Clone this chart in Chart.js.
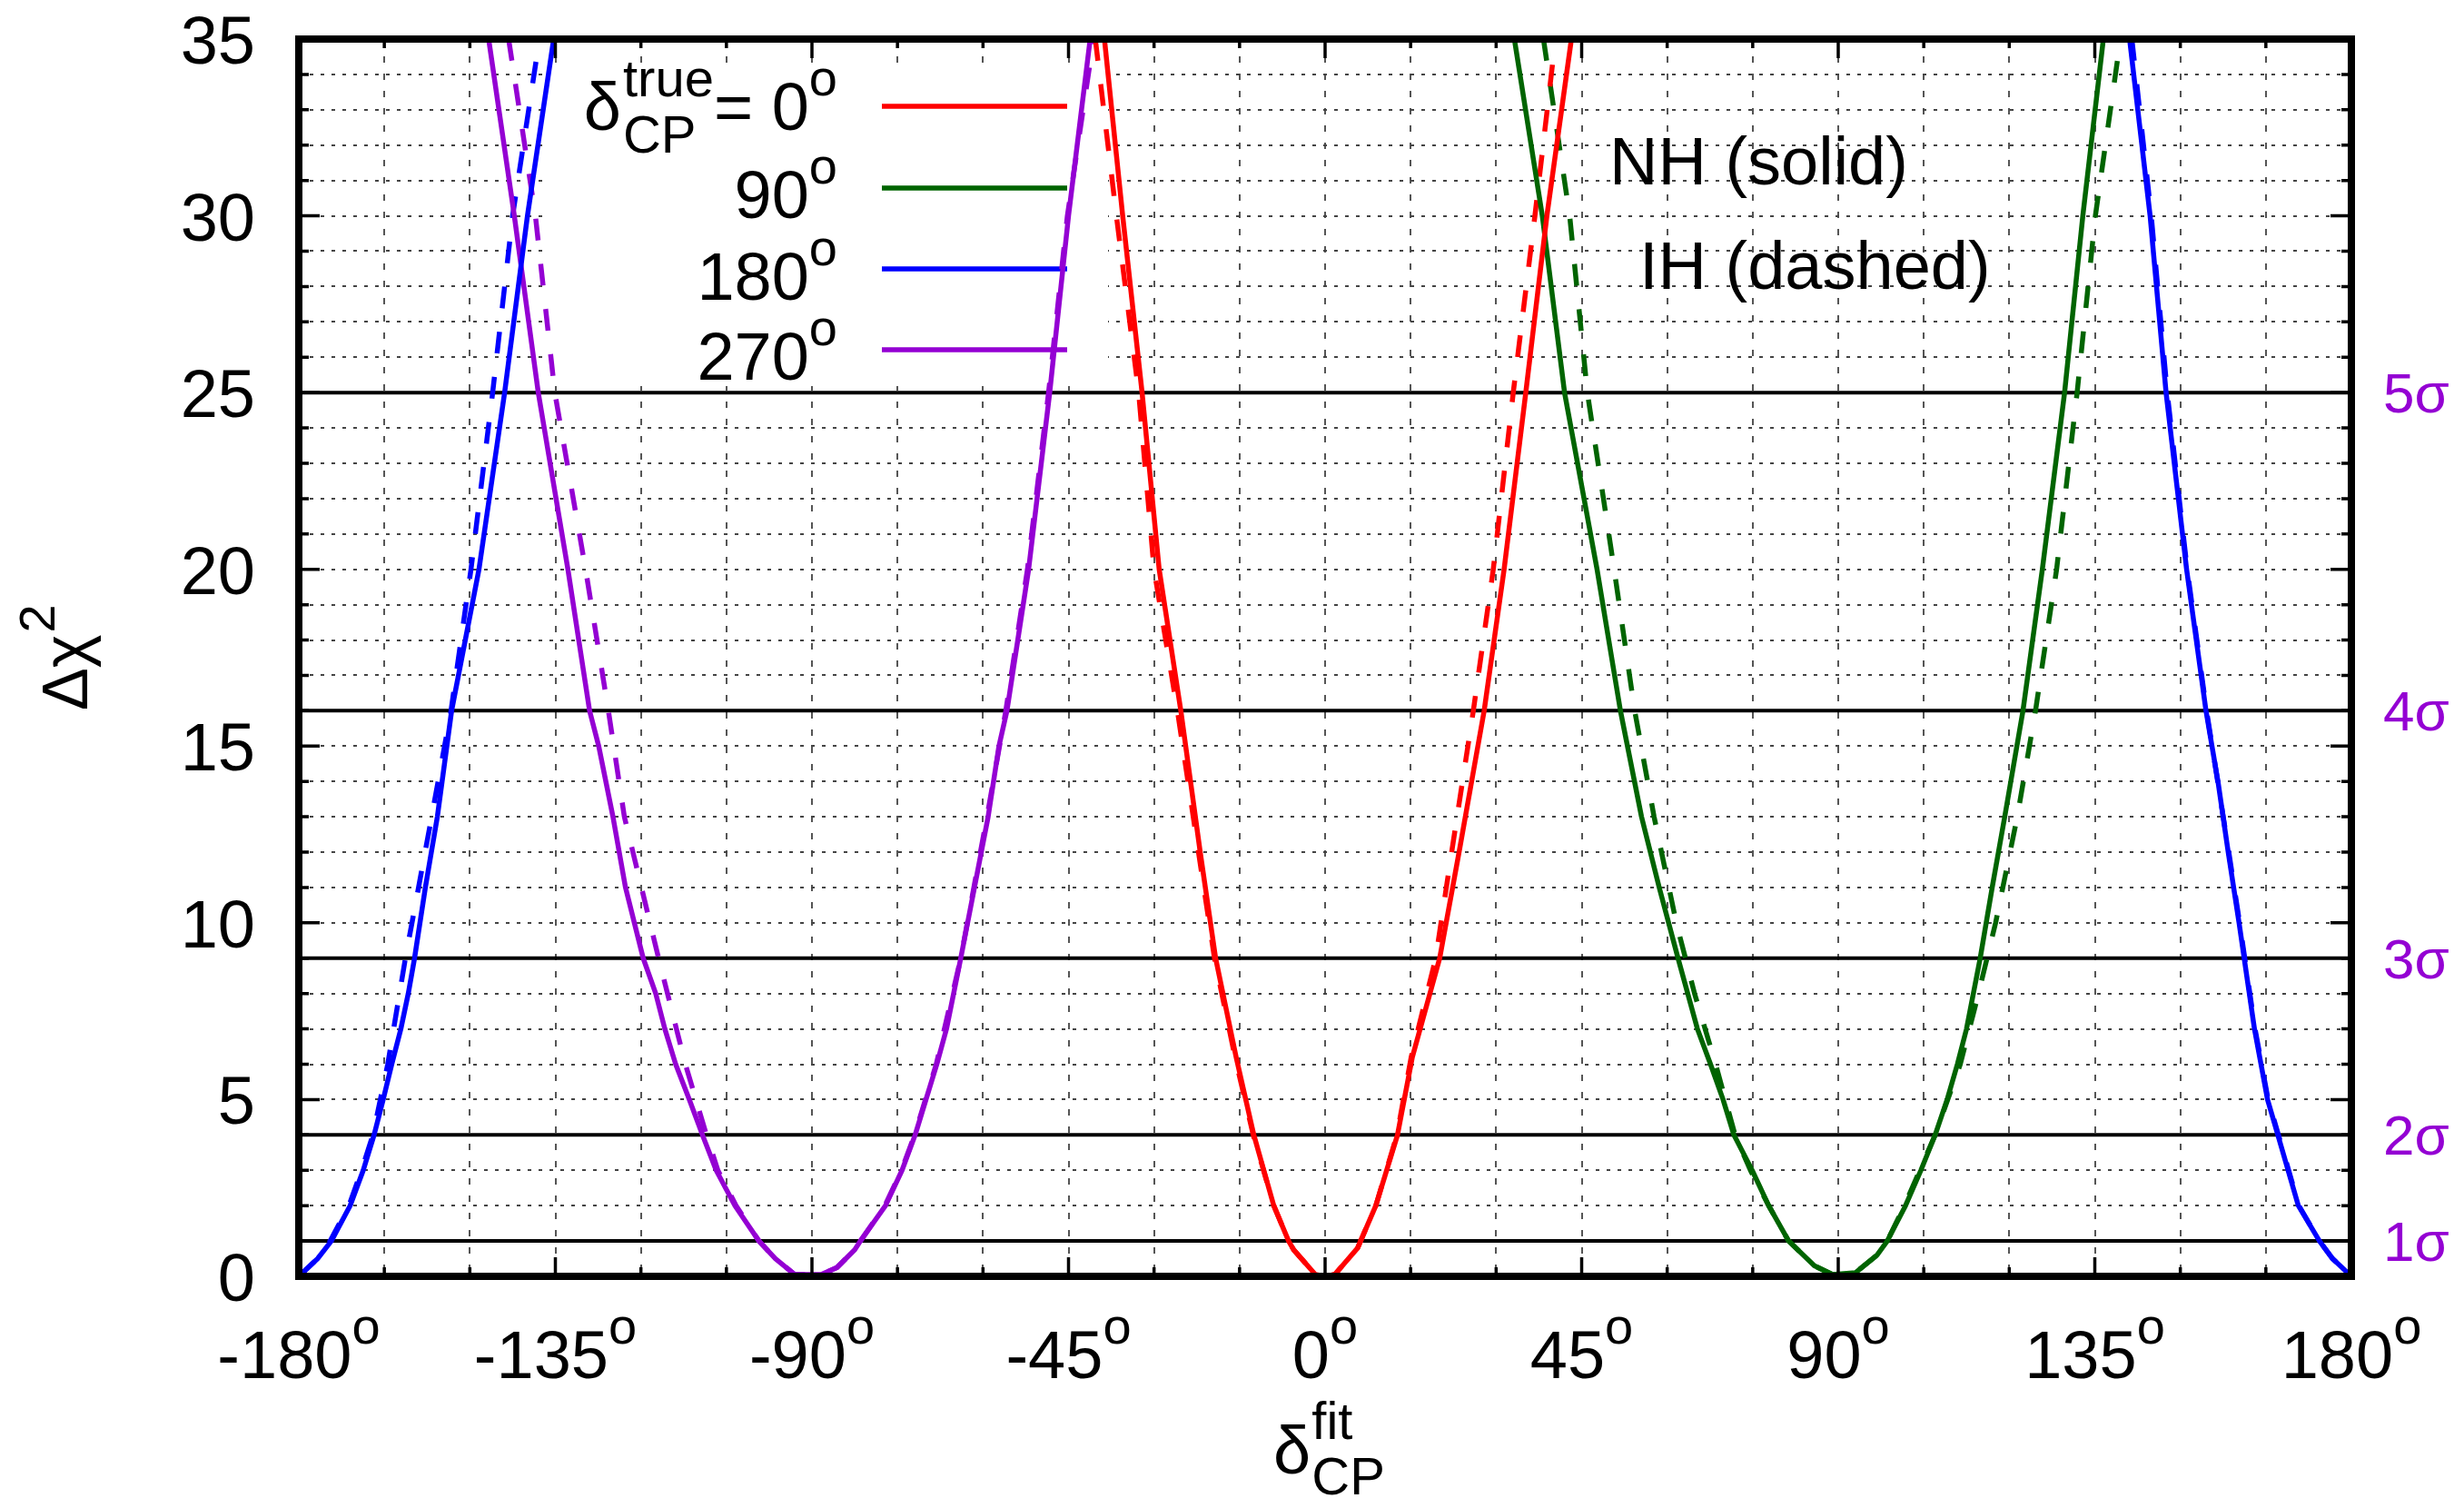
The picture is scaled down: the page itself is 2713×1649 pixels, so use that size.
<!DOCTYPE html>
<html>
<head>
<meta charset="utf-8">
<script src="https://cdn.jsdelivr.net/npm/chart.js@4.4.1/dist/chart.umd.min.js"></script>
<style>
html, body { margin: 0; padding: 0; background: #fff; }
canvas { display: block; }
</style>
</head>
<body>
<canvas id="chart" width="2713" height="1649"></canvas>
<script>
// [delta_CP fit (deg), delta chi^2]; null = gap
var nhTrue0 = [[-38.7, 35], [-35.5, 30], [-32.1, 25], [-29.1, 20], [-25.3, 16], [-21.9, 12], [-19.2, 9], [-15.6, 6.2], [-12.5, 4], [-9.0, 2], [-6.4, 1], [-5.5, 0.75], [-1.7, 0.05], [0, 0], [1.7, 0.05], [5.7, 0.8], [8.9, 2], [12.7, 4], [15.3, 6.2], [20.1, 9], [23.5, 12], [27.9, 16], [31.4, 20], [35.2, 25], [38.9, 30], [43.2, 35]];
var ihTrue0 = [[-40.3, 35], [-36.6, 30], [-32.7, 25], [-30.0, 20], [-25.9, 16], [-22.2, 12], [-19.4, 9], [-15.8, 6.2], [-12.6, 4], [-9.0, 2], [-6.4, 1], [-5.5, 0.75], [-1.7, 0.05], [0, 0], [1.7, 0.05], [5.7, 0.8], [8.9, 2], [12.6, 4], [15.1, 6.2], [19.4, 9], [22.2, 12], [26.0, 16], [29.5, 20], [33.0, 25], [36.8, 30], [40.4, 35]];
var nhTrue90 = [[33.2, 35], [38.1, 30], [42.0, 25], [47.7, 20], [51.8, 16], [55.5, 13], [58.6, 11], [61.9, 9], [65.3, 7], [67.6, 6], [69.8, 5], [71.7, 4], [74.9, 3], [77.8, 2], [81.3, 1], [85.8, 0.3], [89.0, 0.05], [93.0, 0.1], [96.8, 0.6], [98.6, 1], [101.8, 2], [104.5, 3], [107.0, 4], [109.1, 5], [110.9, 6], [112.5, 7], [114.9, 9], [117.0, 11], [119.2, 13], [122.4, 16], [125.8, 20], [129.7, 25], [132.9, 30], [136.5, 35]];
var ihTrue90 = [[38.3, 35], [42.9, 30], [46.0, 25], [50.7, 20], [54.3, 16], [57.7, 13], [61.6, 10], [64.8, 8], [68.5, 6], [71.9, 4], [74.6, 3], [77.8, 2], [81.3, 1], [85.8, 0.3], [89.0, 0.05], [93.0, 0.1], [96.8, 0.6], [98.6, 1], [101.6, 2], [104.3, 3], [107.0, 4], [111.4, 6], [114.6, 8], [117.6, 10], [121.4, 13], [124.6, 16], [128.3, 20], [131.9, 25], [135.1, 30], [139.5, 35]];
var nhTrue180 = [[-180, 0], [-176.7, 0.5], [-174.3, 1], [-171.0, 2], [-168.7, 3], [-166.8, 4], [-165.2, 5], [-163.7, 6], [-162.1, 7], [-160.8, 8], [-159.7, 9], [-157.8, 11], [-155.7, 13], [-153.2, 16], [-148.4, 20], [-143.9, 25], [-139.9, 30], [-135.3, 35],
  null,
  [141.1, 35], [144.7, 30], [147.5, 25], [151.1, 20], [154.5, 16], [156.6, 14], [158.4, 12], [160.3, 10], [161.2, 9], [163.0, 7], [165.3, 5], [167.1, 4], [168.9, 3], [170.7, 2], [174.4, 1], [176.7, 0.5], [180, 0]];
var ihTrue180 = [[-180, 0], [-176.7, 0.5], [-174.5, 1], [-171.2, 2], [-169.0, 3], [-167.0, 4], [-164.4, 6], [-161.3, 9], [-156.7, 13], [-153.3, 16], [-149.8, 20], [-146.0, 25], [-142.5, 30], [-137.8, 35],
  null,
  [141.5, 35], [144.9, 30], [147.7, 25], [151.2, 20], [154.6, 16], [158.5, 12], [160.4, 10], [163.1, 7], [165.4, 5], [167.2, 4], [169.0, 3], [170.8, 2], [174.4, 1], [176.7, 0.5], [180, 0]];
var nhTrue270 = [[-146.7, 35], [-142.2, 30], [-138.0, 25], [-132.8, 20], [-129.0, 16], [-127.4, 15], [-124.9, 13], [-122.7, 11], [-119.6, 9], [-117.4, 8], [-115.8, 7], [-113.9, 6], [-111.5, 5], [-109.2, 4], [-106.8, 3], [-103.5, 2], [-99.3, 1], [-96.4, 0.5], [-93.0, 0.05], [-88.4, 0.05], [-85.6, 0.25], [-82.5, 0.75], [-81.5, 1], [-77.1, 2], [-74.2, 3], [-71.9, 4], [-70.0, 5], [-68.1, 6], [-66.4, 7], [-63.9, 9], [-61.5, 11], [-59.1, 13], [-57.2, 15], [-55.8, 16], [-52.0, 20], [-48.3, 25], [-45.0, 30], [-41.2, 35]];
var ihTrue270 = [[-143.2, 35], [-138.5, 30], [-135.1, 25], [-129.7, 20], [-125.7, 16], [-122.9, 13], [-116.9, 9], [-112.2, 6], [-108.5, 4], [-106.5, 3], [-103.3, 2], [-99.3, 1], [-96.4, 0.5], [-93.0, 0.05], [-88.4, 0.05], [-85.6, 0.25], [-82.5, 0.75], [-81.5, 1], [-77.2, 2], [-74.3, 3], [-72.0, 4], [-68.2, 6], [-63.9, 9], [-59.3, 13], [-56.0, 16], [-52.2, 20], [-48.5, 25], [-45.2, 30], [-40.6, 35]];

var trueLabels = ['0', '90', '180', '270'];
var curveColors = ['#ff0000', '#006400', '#0000ff', '#9400d3'];
var xTickLabels = [-180, -135, -90, -45, 0, 45, 90, 135, 180];
var yTickLabels = [0, 5, 10, 15, 20, 25, 30, 35];
var sigmaLevels = [1, 4, 9, 16, 25];
var sigmaLabels = ['1σ', '2σ', '3σ', '4σ', '5σ'];

var nhSets = [nhTrue0, nhTrue90, nhTrue180, nhTrue270];
var ihSets = [ihTrue0, ihTrue90, ihTrue180, ihTrue270];

function toPoints(arr) {
  return arr.map(function (p) { return p === null ? { x: 0, y: null } : { x: p[0], y: p[1] }; });
}

var datasets = [];
nhSets.forEach(function (s, i) {
  datasets.push({ data: toPoints(s), borderColor: curveColors[i], borderWidth: 5.5, order: 1 });
});
ihSets.forEach(function (s, i) {
  datasets.push({ data: toPoints(s), borderColor: curveColors[i], borderWidth: 5.5, borderDash: [24, 26], order: 2 });
});
sigmaLevels.forEach(function (v) {
  datasets.push({ data: [{ x: -180, y: v }, { x: 180, y: v }], borderColor: '#000', borderWidth: 4, order: 10 });
});

function font(px) { return px + 'px "Liberation Sans", Arial, sans-serif'; }
function textW(ctx, t, px) { ctx.font = font(px); return ctx.measureText(t).width; }
function put(ctx, t, px, x, y, color) {
  ctx.font = font(px);
  ctx.fillStyle = color || '#000';
  ctx.textAlign = 'left';
  ctx.textBaseline = 'alphabetic';
  ctx.fillText(t, x, y);
}
// number with superscript "o" (degree), anchored by its right edge or center
function degText(ctx, t, x, base, anchor) {
  var w = textW(ctx, t, 74) + textW(ctx, 'o', 56);
  var x0 = anchor === 'right' ? x - w : x - w / 2;
  put(ctx, t, 74, x0, base);
  put(ctx, 'o', 56, x0 + textW(ctx, t, 74), base - 38);
}

var decor = {
  id: 'decor',
  beforeDatasetsDraw: function (chart) {
    var ctx = chart.ctx;
    ctx.save();
    // opaque legend box
    ctx.fillStyle = '#fff';
    ctx.fillRect(605, 72, 615, 353);
    var right = 922;
    var bases = [143, 240, 330, 418];
    var lineY = [117, 207, 296, 385];
    // first row: delta_CP^true = 0
    var w0 = textW(ctx, '= 0', 74) + textW(ctx, 'o', 56);
    var wScript = Math.max(textW(ctx, 'true', 58), textW(ctx, 'CP', 58));
    var wd = textW(ctx, 'δ', 74);
    var xs = right - w0 - wScript - wd - 2;
    put(ctx, 'δ', 74, xs, bases[0]);
    put(ctx, 'true', 58, xs + wd + 2, bases[0] - 37);
    put(ctx, 'CP', 58, xs + wd + 2, bases[0] + 25);
    degText(ctx, '= ' + trueLabels[0], right, bases[0], 'right');
    for (var i = 1; i < trueLabels.length; i++) {
      degText(ctx, trueLabels[i], right, bases[i], 'right');
    }
    ctx.lineWidth = 5.5;
    for (var j = 0; j < curveColors.length; j++) {
      ctx.strokeStyle = curveColors[j];
      ctx.beginPath();
      ctx.moveTo(971, lineY[j]);
      ctx.lineTo(1175, lineY[j]);
      ctx.stroke();
    }
    put(ctx, 'NH (solid)', 74, 1772, 203);
    put(ctx, 'IH (dashed)', 74, 1805, 318);
    ctx.restore();
  },
  afterDatasetsDraw: function (chart) {
    var ctx = chart.ctx;
    var a = chart.chartArea;
    var xs = chart.scales.x, ys = chart.scales.y;
    ctx.save();
    // inward ticks on all sides
    ctx.strokeStyle = '#000';
    ctx.lineWidth = 3.5;
    ctx.beginPath();
    for (var v = -180; v <= 180; v += 15) {
      var px = xs.getPixelForValue(v);
      var len = v % 45 === 0 ? 21 : 10;
      ctx.moveTo(px, a.bottom); ctx.lineTo(px, a.bottom - len);
      ctx.moveTo(px, a.top); ctx.lineTo(px, a.top + len);
    }
    for (var k = 0; k <= 35; k++) {
      var py = ys.getPixelForValue(k);
      var l2 = k % 5 === 0 ? 23 : 11;
      ctx.moveTo(a.left, py); ctx.lineTo(a.left + l2, py);
      ctx.moveTo(a.right, py); ctx.lineTo(a.right - l2, py);
    }
    ctx.stroke();
    // frame
    ctx.lineWidth = 8;
    ctx.strokeRect(a.left, a.top, a.right - a.left, a.bottom - a.top);

    // x tick labels
    xTickLabels.forEach(function (v) {
      degText(ctx, String(v), xs.getPixelForValue(v), 1517, 'center');
    });
    // y tick labels
    yTickLabels.forEach(function (v) {
      var t = String(v);
      put(ctx, t, 74, 281 - textW(ctx, t, 74), ys.getPixelForValue(v) + 27);
    });
    // sigma labels
    sigmaLevels.forEach(function (v, i) {
      put(ctx, sigmaLabels[i], 62, 2624, ys.getPixelForValue(v) + 22, '#9400d3');
    });
    // x title
    var cx = (a.left + a.right) / 2 + 4;
    var wdl = textW(ctx, 'δ', 74);
    var wsc = Math.max(textW(ctx, 'fit', 58), textW(ctx, 'CP', 58));
    var x0 = cx - (wdl + wsc) / 2;
    put(ctx, 'δ', 74, x0, 1622);
    put(ctx, 'fit', 58, x0 + wdl + 1, 1584);
    put(ctx, 'CP', 58, x0 + wdl + 1, 1645);
    // y title
    ctx.translate(96, 782);
    ctx.rotate(-Math.PI / 2);
    put(ctx, 'Δχ', 70, 0, 0);
    put(ctx, '2', 56, textW(ctx, 'Δχ', 70) + 2, -36);
    ctx.restore();
  }
};

var chart = new Chart(document.getElementById('chart'), {
  type: 'line',
  data: { datasets: datasets },
  options: {
    responsive: false,
    animation: false,
    devicePixelRatio: 1,
    layout: { padding: { left: 329, right: 124, top: 43, bottom: 244 } },
    elements: {
      line: { tension: 0, borderCapStyle: 'butt', borderJoinStyle: 'round', fill: false },
      point: { radius: 0, hoverRadius: 0 }
    },
    spanGaps: false,
    scales: {
      x: {
        type: 'linear', min: -180, max: 180,
        afterBuildTicks: function (s) {
          var t = []; for (var v = -180; v <= 180; v += 15) t.push({ value: v }); s.ticks = t;
        },
        afterFit: function (s) { s.height = 0; },
        ticks: { display: false },
        grid: { color: '#555', lineWidth: 2, drawTicks: false },
        border: { display: false, dash: [7, 12] }
      },
      y: {
        type: 'linear', min: 0, max: 35,
        afterBuildTicks: function (s) {
          var t = []; for (var v = 0; v <= 35; v++) t.push({ value: v }); s.ticks = t;
        },
        afterFit: function (s) { s.width = 0; },
        ticks: { display: false },
        grid: { color: '#444', lineWidth: 2, drawTicks: false },
        border: { display: false, dash: [4, 8] }
      }
    },
    plugins: { legend: { display: false }, tooltip: { enabled: false } }
  },
  plugins: [decor]
});
</script>
</body>
</html>
